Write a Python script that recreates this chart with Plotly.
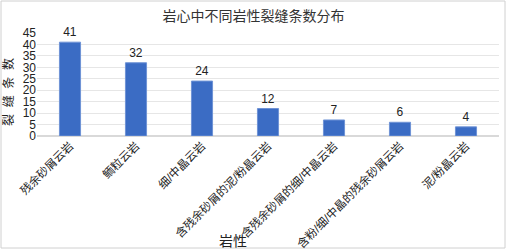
import plotly.graph_objects as go

categories = ["残余砂屑云岩", "鲕粒云岩", "细/中晶云岩", "含残余砂屑的泥/粉晶云岩",
              "含残余砂屑的细/中晶云岩", "含粉/细/中晶的残余砂屑云岩", "泥/粉晶云岩"]
counts = [41, 32, 24, 12, 7, 6, 4]
y_ticks = [0, 5, 10, 15, 20, 25, 30, 35, 40, 45]

FONT = "Liberation Sans, Arial, Noto Sans CJK SC, sans-serif"

fig = go.Figure(go.Bar(
    x=categories, y=counts, text=[str(v) for v in counts],
    textposition="outside", cliponaxis=False,
    textfont=dict(size=12, color="#222", family=FONT),
    marker=dict(color="#3B6CC4", line=dict(color="#6F93D6", width=1)),
    width=0.32,
))

L, R, T, B = 37, 8, 33, 114
W, H = 507, 250
pw, ph = W - L - R, H - T - B

fig.update_layout(
    width=W, height=H,
    margin=dict(l=L, r=R, t=T, b=B),
    paper_bgcolor="white", plot_bgcolor="white",
    font=dict(family=FONT, color="#222"),
    title=dict(text="岩心中不同岩性裂缝条数分布", x=0.5, xanchor="center",
               y=1 - 16 / H, yanchor="middle", font=dict(size=14, color="#333")),
    showlegend=False,
    xaxis=dict(tickangle=-45, tickfont=dict(size=11.5, color="#222"),
               showgrid=False, showline=False, ticks="", automargin=False),
    yaxis=dict(range=[0, 45], tickvals=y_ticks, tickfont=dict(size=12, color="#222"),
               showgrid=True, gridcolor="#E6E6E6", gridwidth=1, zeroline=True,
               zerolinecolor="#D9D9D9", showline=False, ticks="", automargin=False),
)

fig.add_annotation(text="岩性", xref="paper", yref="paper",
                   x=(233 - L) / pw, y=-(241 - (T + ph)) / ph,
                   xanchor="center", yanchor="middle", showarrow=False,
                   font=dict(size=14, color="#222"))
fig.add_annotation(text="裂\u00a0\u00a0缝\u00a0\u00a0条\u00a0\u00a0数", xref="paper", yref="paper",
                   x=(8 - L) / pw, y=-(92 - (T + ph)) / ph,
                   xanchor="center", yanchor="middle", showarrow=False, textangle=-90,
                   font=dict(size=12, color="#222"))

fig.add_shape(type="rect", xref="paper", yref="paper",
              x0=(1 - L) / pw, x1=(W - 2 - L) / pw,
              y0=-(H - 2 - (T + ph)) / ph, y1=(T + ph - 1) / ph,
              line=dict(color="#D0D0D0", width=1), fillcolor="rgba(0,0,0,0)", layer="below")

fig.write_html("out.html", config={"displayModeBar": False},
               post_script="document.body.style.margin='0';document.body.style.overflow='hidden';")
